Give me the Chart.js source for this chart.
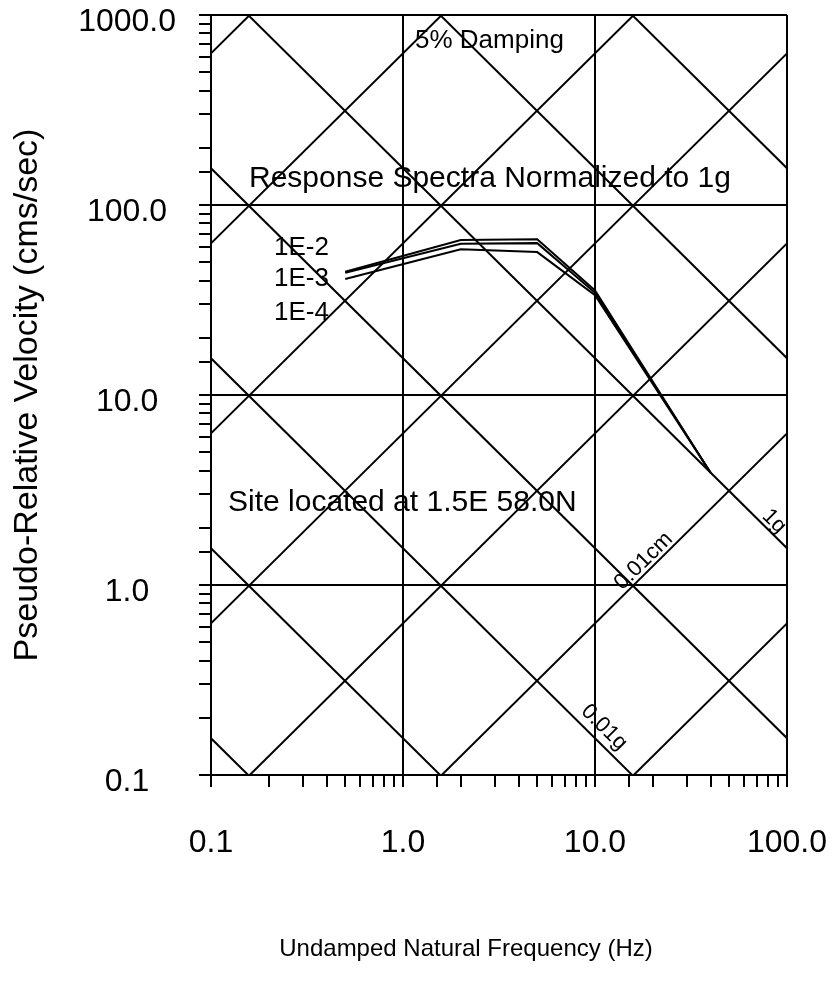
<!DOCTYPE html>
<html>
<head>
<meta charset="utf-8">
<script src="https://cdn.jsdelivr.net/npm/chart.js@4.4.1/dist/chart.umd.min.js"></script>
<style>
  html, body { margin: 0; padding: 0; background: #fff; overflow: hidden; }
  canvas { display: block; }
</style>
</head>
<body>
<canvas id="c" width="836" height="993"></canvas>
<script>
// spectra (Hz, cm/s)
const freqHz = [0.5, 2, 5, 10, 40];
const psv1e2 = [44.5, 65.5, 66.0, 35.5, 3.9];
const psv1e3 = [44.0, 62.5, 63.0, 34.5, 3.9];
const psv1e4 = [40.8, 58.5, 56.5, 33.5, 3.9];

// tripartite grid levels
const dispLevelsCm = [0.001, 0.01, 0.1, 1, 10, 100, 1000];
const accelLevelsG = [0.0001, 0.001, 0.01, 0.1, 1, 10, 100];
const gravity = 981; // cm/s2

const xTickValues = [0.1, 1, 10, 100];
const xTickLabels = ['0.1', '1.0', '10.0', '100.0'];
const yTickValues = [0.1, 1, 10, 100, 1000];
const yTickLabels = ['0.1', '1.0', '10.0', '100.0', '1000.0'];

const FONT = "'Liberation Sans', Arial, Helvetica, sans-serif";

function findIdx(arr, v) {
  return arr.findIndex(t => Math.abs(Math.log10(t) - Math.log10(v)) < 1e-6);
}

function spec(f, v) { return f.map((fi, i) => ({x: fi, y: v[i]})); }

const fMin = xTickValues[0], fMax = xTickValues[xTickValues.length - 1];
const dispV = (d, f) => 2 * Math.PI * f * d;
const accV = (a, f) => a * gravity / (2 * Math.PI * f);

const lineStyle = {borderColor: '#000', borderWidth: 2, pointRadius: 0, fill: false, tension: 0};

var datasets = [];
dispLevelsCm.forEach(function (d) {
  datasets.push(Object.assign({label: d + ' cm', data: [{x: fMin, y: dispV(d, fMin)}, {x: fMax, y: dispV(d, fMax)}]}, lineStyle));
});
accelLevelsG.forEach(function (a) {
  datasets.push(Object.assign({label: a + ' g', data: [{x: fMin, y: accV(a, fMin)}, {x: fMax, y: accV(a, fMax)}]}, lineStyle));
});
datasets.push(Object.assign({label: '1E-2', data: spec(freqHz, psv1e2)}, lineStyle));
datasets.push(Object.assign({label: '1E-3', data: spec(freqHz, psv1e3)}, lineStyle));
datasets.push(Object.assign({label: '1E-4', data: spec(freqHz, psv1e4)}, lineStyle));

// texts drawn on the plot
const notes = [
  {text: '5% Damping', size: 26, x: 415, y: 48},
  {text: 'Response Spectra Normalized to 1g', size: 30, x: 249, y: 187},
  {text: '1E-2', size: 26, x: 274, y: 255},
  {text: '1E-3', size: 26, x: 274, y: 286},
  {text: '1E-4', size: 26, x: 274, y: 320},
  {text: 'Site located at 1.5E 58.0N', size: 30, x: 228, y: 511}
];
const lineNotes = [
  {text: '0.01cm', fn: f => dispV(0.01, f), f: 19.5, off: 4},
  {text: '1g', fn: f => accV(1, f), f: 78.7, off: 4},
  {text: '0.01g', fn: f => accV(0.01, f), f: 9.9, off: 8}
];

const annot = {
  id: 'annot',
  afterDatasetsDraw(chart) {
    const ctx = chart.ctx, x = chart.scales.x, y = chart.scales.y;
    ctx.save();
    ctx.fillStyle = '#000';
    ctx.textBaseline = 'alphabetic';
    ctx.textAlign = 'left';
    notes.forEach(function (n) {
      ctx.font = n.size + 'px ' + FONT;
      ctx.fillText(n.text, n.x, n.y);
    });
    ctx.font = '22px ' + FONT;
    ctx.textAlign = 'center';
    lineNotes.forEach(function (n) {
      const px = x.getPixelForValue(n.f), py = y.getPixelForValue(n.fn(n.f));
      const qx = x.getPixelForValue(n.f * 1.2), qy = y.getPixelForValue(n.fn(n.f * 1.2));
      const a = Math.atan2(qy - py, qx - px);
      ctx.save();
      ctx.translate(px + n.off * Math.sin(a), py - n.off * Math.cos(a));
      ctx.rotate(a);
      ctx.fillText(n.text, 0, 0);
      ctx.restore();
    });
    // x axis title
    ctx.font = '24px ' + FONT;
    ctx.fillText('Undamped Natural Frequency (Hz)', 466, 956);
    ctx.restore();
  }
};

function gridColor(vals) {
  return function (c) {
    return c.tick && findIdx(vals, c.tick.value) >= 0 ? '#000' : 'rgba(0,0,0,0)';
  };
}

new Chart(document.getElementById('c'), {
  type: 'line',
  data: {datasets: datasets},
  plugins: [annot],
  options: {
    responsive: false,
    animation: false,
    events: [],
    layout: {padding: {top: 15, right: 49, left: 0, bottom: 0}},
    plugins: {legend: {display: false}, tooltip: {enabled: false}},
    scales: {
      x: {
        type: 'logarithmic',
        min: 0.1, max: 100,
        border: {display: true, color: '#000', width: 2},
        grid: {color: gridColor(xTickValues), tickColor: '#000', lineWidth: 2, tickWidth: 2, tickLength: 12},
        ticks: {
          autoSkip: false, maxRotation: 0, minRotation: 0, padding: 37, color: '#000',
          font: {family: FONT, size: 32},
          callback: function (v) { const i = findIdx(xTickValues, v); return i >= 0 ? xTickLabels[i] : ''; }
        },
        afterFit: function (s) { s.height = 218; s.paddingLeft = 0; s.paddingRight = 0; }
      },
      y: {
        type: 'logarithmic',
        min: 0.1, max: 1000,
        border: {display: true, color: '#000', width: 2},
        grid: {color: gridColor(yTickValues), tickColor: '#000', lineWidth: 2, tickWidth: 2, tickLength: 12},
        ticks: {
          autoSkip: false, crossAlign: 'center', padding: 23, labelOffset: 7, color: '#000',
          font: {family: FONT, size: 32},
          callback: function (v) { const i = findIdx(yTickValues, v); return i >= 0 ? yTickLabels[i] : ''; }
        },
        title: {
          display: true, text: 'Pseudo-Relative Velocity (cms/sec)', color: '#000',
          font: {family: FONT, size: 34}, padding: {top: 7, bottom: 0}
        },
        afterFit: function (s) { s.width = 211; s.paddingTop = 0; s.paddingBottom = 0; }
      }
    }
  }
});
</script>
</body>
</html>
